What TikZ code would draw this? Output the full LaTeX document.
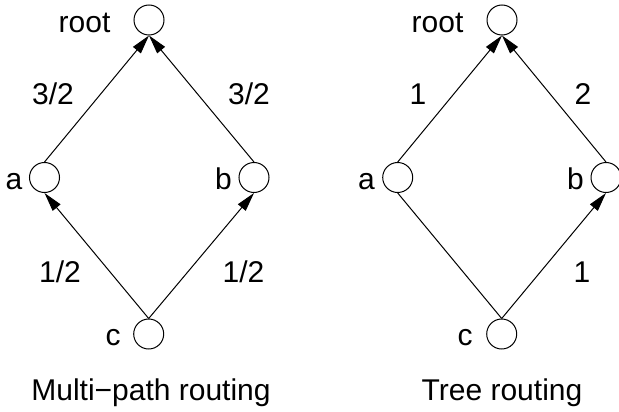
\documentclass[tikz,border=0pt]{standalone}
\usepackage{fontspec}
\setmainfont{Liberation Sans}
\usetikzlibrary{arrows.meta}
\begin{document}
\begin{tikzpicture}[x=1pt,y=-1pt,
  vtx/.style={circle,draw,line width=1pt,minimum size=30pt,inner sep=0pt},
  lbl/.style={anchor=base,inner sep=0pt,font=\fontsize{30}{34}\selectfont},
  edge/.style={line width=1pt},
  arr/.style={line width=1pt,-{Triangle[length=19pt,width=10pt]}}]
\useasboundingbox (0,0) rectangle (619,412);
% left diagram
\node[vtx] (rootL) at (149,20) {};
\node[vtx] (aL) at (44.5,177.5) {};
\node[vtx] (bL) at (254,177.5) {};
\node[vtx] (cL) at (148.7,334) {};
\node[lbl] (rootLt) at (84.5,33) {root};
\node[lbl] (aLt) at (14,189) {a};
\node[lbl] (bLt) at (223.4,189) {b};
\node[lbl] (cLt) at (113,345.7) {c};
\draw[arr] (aL.north) -- (rootL.south);
\draw[arr] (bL.north) -- (rootL.south);
\draw[arr] (cL.north) -- (aL.south);
\draw[arr] (cL.north) -- (bL.south);
\node[lbl] (wLa) at (53,105) {3/2};
\node[lbl] (wLb) at (249,105) {3/2};
\node[lbl] (wLc) at (60,282) {1/2};
\node[lbl] (wLd) at (243.5,282) {1/2};
\node[lbl] (tL) at (151,400) {Multi−path routing};
% right diagram
\node[vtx] (rootR) at (502,20) {};
\node[vtx] (aR) at (397.7,177.5) {};
\node[vtx] (bR) at (606,177.5) {};
\node[vtx] (cR) at (501.7,334) {};
\node[lbl] (rootRt) at (437.5,33) {root};
\node[lbl] (aRt) at (366.5,189) {a};
\node[lbl] (bRt) at (575.5,189) {b};
\node[lbl] (cRt) at (465,345.7) {c};
\draw[arr] (aR.north) -- (rootR.south);
\draw[arr] (bR.north) -- (rootR.south);
\draw[edge] (cR.north) -- (aR.south);
\draw[arr] (cR.north) -- (bR.south);
\node[lbl] (wRa) at (418,105) {1};
\node[lbl] (wRb) at (583,105) {2};
\node[lbl] (wRd) at (582,282) {1};
\node[lbl] (tR) at (502,400) {Tree routing};
\end{tikzpicture}
\end{document}
